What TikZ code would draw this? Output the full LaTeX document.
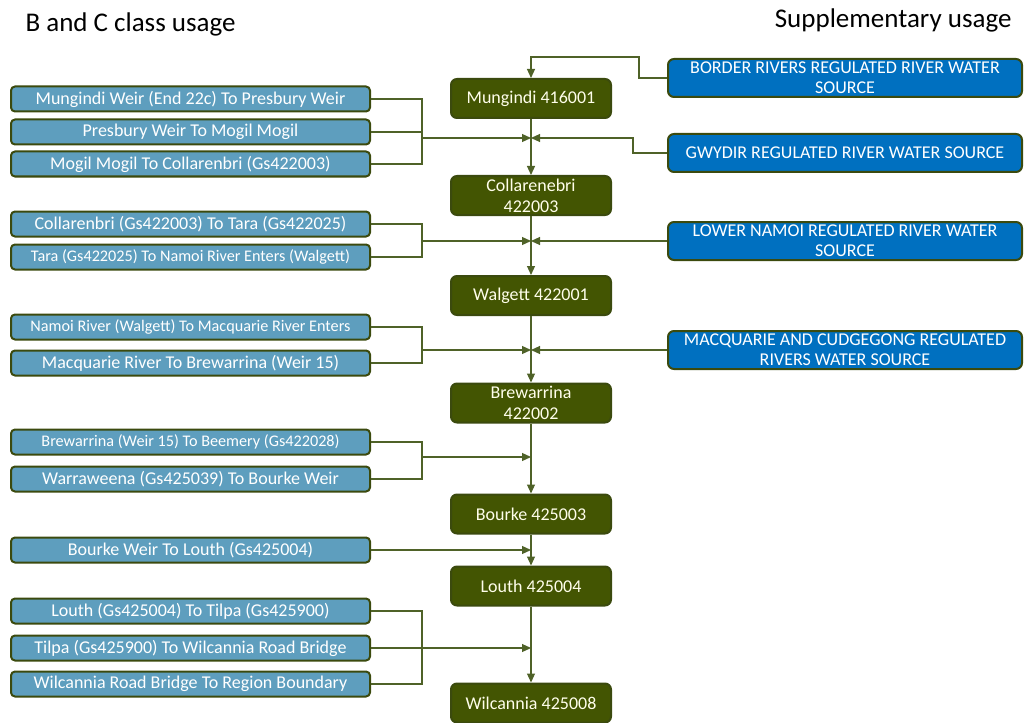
\documentclass[tikz,border=0pt]{standalone}
\usepackage{fontspec}
\setmainfont{Carlito}
\usepackage{tikz}
\usetikzlibrary{%
	arrows.meta,%
	positioning,%
	calc
}
\definecolor{segfill}{HTML}{5E9EBE}
\definecolor{edgegreen}{HTML}{3B4A0E}
\definecolor{gaugefill}{HTML}{435502}
\definecolor{suppfill}{HTML}{0070C0}
\definecolor{linkgreen}{HTML}{4F6228}
\tikzset{
	seg/.style={draw=edgegreen,line width=2pt,fill=segfill,rounded corners=4pt,
		minimum width=359pt,minimum height=25pt,inner sep=0pt,text=white,
		font=\fontsize{18}{20}\selectfont},
	segsmall/.style={seg,font=\fontsize{16.2}{18}\selectfont},
	gauge/.style={draw=edgegreen,line width=2pt,fill=gaugefill,rounded corners=6pt,
		minimum width=160pt,minimum height=39pt,inner sep=0pt,align=center,
		text=white!92!yellow,font=\fontsize{18}{21}\selectfont},
	supp/.style={draw=edgegreen,line width=2pt,fill=suppfill,rounded corners=6pt,
		minimum width=354pt,minimum height=38pt,inner sep=0pt,align=center,
		text=white,font=\fontsize{18}{20}\selectfont},
	head/.style={font=\fontsize{27}{30}\selectfont},
	link/.style={draw=linkgreen,line width=1.2pt},
	feed/.style={link,-{Triangle[length=9pt,width=8pt]}}
}
\begin{document}
\begin{tikzpicture}[x=1pt,y=-1pt]
	\useasboundingbox (0,0) rectangle (1024,722);
	\node[head,anchor=base west] (lefthead) at (22,32) {B and C class usage};
	\node[head,anchor=base east] (righthead) at (1015,28) {Supplementary usage};
	%
	\node[gauge] (g1) at (531,98.5) {Mungindi 416001};
	\node[gauge] (g2) at (531,195.5) {Collarenebri\\422003};
	\node[gauge] (g3) at (531,295.5) {Walgett 422001};
	\node[gauge] (g4) at (531,403) {Brewarrina\\422002};
	\node[gauge] (g5) at (531,514) {Bourke 425003};
	\node[gauge] (g6) at (531,586) {Louth 425004};
	\node[gauge] (g7) at (531,703) {Wilcannia 425008};
	%
	\node[seg] (m1) at (190.5,99) {Mungindi Weir (End 22c) To Presbury Weir};
	\node[seg] (m2) at (190.5,132) {Presbury Weir To Mogil Mogil};
	\node[seg] (m3) at (190.5,164) {Mogil Mogil To Collarenbri (Gs422003)};
	\node[seg] (c1) at (190.5,224) {Collarenbri (Gs422003) To Tara (Gs422025)};
	\node[segsmall] (c2) at (190.5,257) {Tara (Gs422025) To Namoi River Enters (Walgett)};
	\node[segsmall] (w1) at (190.5,327) {Namoi River (Walgett) To Macquarie River Enters};
	\node[seg] (w2) at (190.5,363) {Macquarie River To Brewarrina (Weir 15)};
	\node[segsmall] (r1) at (190.5,442) {Brewarrina (Weir 15) To Beemery (Gs422028)};
	\node[seg] (r2) at (190.5,479) {Warraweena (Gs425039) To Bourke Weir};
	\node[seg] (b1) at (190.5,550) {Bourke Weir To Louth (Gs425004)};
	\node[seg] (l1) at (190.5,611) {Louth (Gs425004) To Tilpa (Gs425900)};
	\node[seg] (l2) at (190.5,648) {Tilpa (Gs425900) To Wilcannia Road Bridge};
	\node[seg] (l3) at (190.5,684) {Wilcannia Road Bridge To Region Boundary};
	%
	\node[supp] (s1) at (845,78) {BORDER RIVERS REGULATED RIVER WATER\\SOURCE};
	\node[supp] (s2) at (845,153) {GWYDIR REGULATED RIVER WATER SOURCE};
	\node[supp] (s3) at (845,241) {LOWER NAMOI REGULATED RIVER WATER\\SOURCE};
	\node[supp] (s4) at (845,350) {MACQUARIE AND CUDGEGONG REGULATED\\RIVERS WATER SOURCE};
	%
	\coordinate (j1) at (531,138);
	\coordinate (j2) at (531,241);
	\coordinate (j3) at (531,350);
	\coordinate (j4) at (531,457);
	\coordinate (j5) at (531,550);
	\coordinate (j6) at (531,648);
	\coordinate (k1) at (422,138);
	\coordinate (k2) at (422,241);
	\coordinate (k3) at (422,350);
	\coordinate (k4) at (422,457);
	\coordinate (k6) at (422,648);
	%
	\path (g1) edge[feed] (g2)
	(g2) edge[feed] (g3)
	(g3) edge[feed] (g4)
	(g4) edge[feed] (g5)
	(g5) edge[feed] (g6)
	(g6) edge[feed] (g7)
	;
	\draw[link] (m1.east) -| (k1) |- (m3.east)
	(m2.east) -- (m2.east -| k1)
	(c1.east) -| (k2) |- (c2.east)
	(w1.east) -| (k3) |- (w2.east)
	(r1.east) -| (k4) |- (r2.east)
	(l1.east) -| (k6) |- (l3.east)
	(l2.east) -- (k6)
	;
	\path (k1) edge[feed] (j1)
	(k2) edge[feed] (j2)
	(k3) edge[feed] (j3)
	(k4) edge[feed] (j4)
	(b1.east) edge[feed] (j5)
	(k6) edge[feed] (j6)
	;
	\draw[feed] (s1.west) -- ++(-28,0) |- ($(g1.north)+(0,-21)$) -- (g1.north);
	\draw[feed] (s2.west) -- ++(-34,0) |- (j1);
	\path (s3.west) edge[feed] (j2)
	(s4.west) edge[feed] (j3)
	;
\end{tikzpicture}
\end{document}
